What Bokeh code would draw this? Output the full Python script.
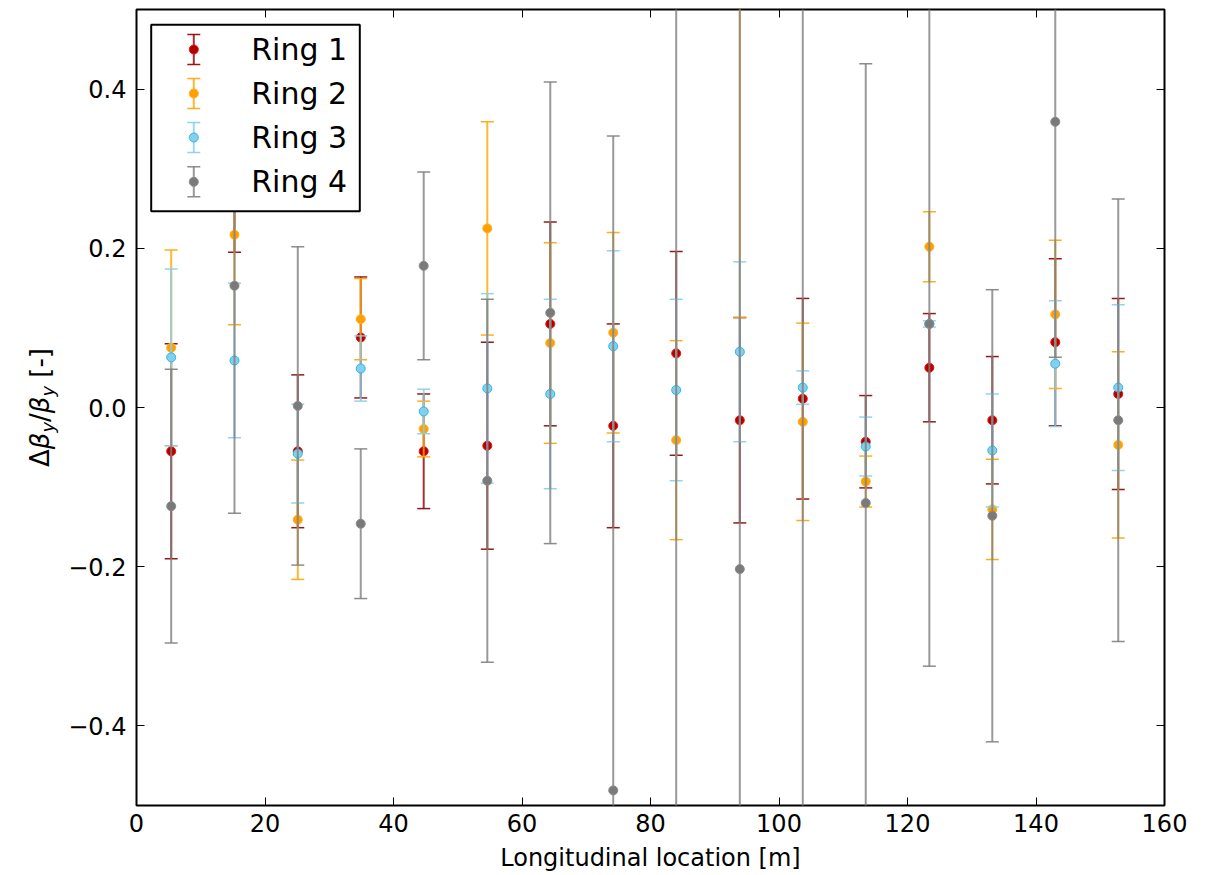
import numpy as np
from bokeh.plotting import figure
from bokeh.layouts import row
from bokeh.models import (Range1d, FixedTicker, LinearAxis, CustomJSTickFormatter,
                          Label, BoxAnnotation, PolyAnnotation, Div, CustomLabelingPolicy)
from bokeh.embed import file_html
from bokeh.resources import INLINE

# ---------------- data ----------------
location = [5.4, 15.25, 25.1, 34.9, 44.7, 54.6, 64.4, 74.2, 84.0, 93.9,
            103.7, 113.5, 123.4, 133.2, 143.0, 152.8]

ring1 = [-0.055, 0.28, -0.055, 0.088, -0.055, -0.048, 0.105, -0.023, 0.068, -0.016,
         0.011, -0.043, 0.050, -0.016, 0.082, 0.017]
ring1_err = [0.135, 0.085, 0.096, 0.076, 0.072, 0.130, 0.128, 0.128, 0.128, 0.129,
             0.126, 0.058, 0.068, 0.080, 0.105, 0.120]

ring2 = [0.075, 0.217, -0.141, 0.111, -0.027, 0.225, 0.081, 0.094, -0.041, 0.62,
         -0.018, -0.093, 0.202, -0.128, 0.117, -0.047]
ring2_err = [0.123, 0.113, 0.075, 0.051, 0.035, 0.134, 0.126, 0.126, 0.125, 0.507,
             0.124, 0.032, 0.044, 0.063, 0.093, 0.117]

ring3 = [0.063, 0.059, -0.058, 0.049, -0.005, 0.024, 0.017, 0.077, 0.022, 0.070,
         0.025, -0.049, 0.105, -0.054, 0.055, 0.025]
ring3_err = [0.111, 0.097, 0.062, 0.041, 0.028, 0.119, 0.119, 0.120, 0.114, 0.113,
             0.021, 0.037, 0.004, 0.071, 0.079, 0.104]

ring4 = [-0.124, 0.153, 0.002, -0.146, 0.178, -0.092, 0.119, -0.481, -0.70, -0.203,
         0.80, -0.120, 0.105, -0.136, 0.359, -0.016]
ring4_err = [0.172, 0.286, 0.200, 0.094, 0.118, 0.228, 0.290, 0.822, 1.30, 0.80,
             1.40, 0.552, 0.430, 0.284, 0.296, 0.278]

labels = ["Ring 1", "Ring 2", "Ring 3", "Ring 4"]
x_ticks = [0, 20, 40, 60, 80, 100, 120, 140, 160]
y_ticks = [-0.4, -0.2, 0.0, 0.2, 0.4]

# style per ring: (bar colour, marker fill, marker edge)
styles = [
    ("#8b0000", "#b00000", "#ee1111"),
    ("#ffa500", "#ffa000", "#ffb020"),
    ("#87ceeb", "#87ceeb", "#22bbee"),
    ("#808080", "#7a7a7a", "#8a8a8a"),
]

FONT = "DejaVu Sans"
DIV_W = 60

p = figure(width=1220 - DIV_W, height=875, x_range=Range1d(0, 160), y_range=Range1d(-0.5, 0.5),
           output_backend="svg", toolbar_location=None,
           min_border_left=136 - DIV_W, min_border_right=56, min_border_top=9,
           min_border_bottom=70,
           background_fill_color="white", border_fill_color="white")
p.grid.visible = False
p.outline_line_color = "black"
p.outline_line_width = 2

xt = FixedTicker(ticks=x_ticks)
yt = FixedTicker(ticks=y_ticks)
yfmt = CustomJSTickFormatter(code="return (tick < 0 ? '\\u2212' : '') + Math.abs(tick).toFixed(1)")

for side in ("above", "right"):
    ax = LinearAxis(ticker=xt if side == "above" else yt,
                    major_label_policy=CustomLabelingPolicy(code="return []"))
    p.add_layout(ax, side)

for ax in p.xaxis:
    ax.ticker = xt
for ax in p.yaxis:
    ax.ticker = yt
    ax.formatter = yfmt

for ax in p.axis:
    ax.axis_line_color = None
    ax.major_tick_in = 8
    ax.major_tick_out = 0
    ax.minor_tick_line_color = None
    ax.major_tick_line_color = "black"
    ax.major_tick_line_width = 1
    ax.major_label_text_font = FONT
    ax.major_label_text_font_size = "24px"
    ax.major_label_text_color = "black"

for ax in (p.above[0], p.right[0]):
    ax.major_label_text_font_size = "0px"
    ax.major_label_standoff = 0

p.below[0].major_label_standoff = 8
p.below[0].axis_label = "Longitudinal location [m]"
p.below[0].axis_label_text_font = FONT
p.below[0].axis_label_text_font_size = "24px"
p.below[0].axis_label_text_font_style = "normal"
p.below[0].axis_label_text_color = "black"
p.below[0].axis_label_standoff = 9
p.left[0].major_label_standoff = 10

# ---------------- data marks ----------------
series = [(ring1, ring1_err), (ring2, ring2_err), (ring3, ring3_err), (ring4, ring4_err)]
x = np.array(location)
for (vals, errs), (bar_c, fill_c, edge_c) in zip(series, styles):
    v = np.array(vals)
    e = np.array(errs)
    lo = v - e
    hi = v + e
    p.segment(x0=x, y0=lo, x1=x, y1=hi, line_color=bar_c, line_width=2, line_alpha=0.8)
    p.scatter(x=np.concatenate([x, x]), y=np.concatenate([lo, hi]), marker="dash",
              size=13, line_color=bar_c, line_width=1.5, line_alpha=0.9)
    p.scatter(x=x, y=v, marker="circle", size=9, fill_color=fill_c,
              line_color=edge_c, line_width=1)

# ---------------- legend (drawn manually, matplotlib style) ----------------
p.add_layout(BoxAnnotation(left=14.7, right=223.3, bottom=594.3, top=780.7,
                           left_units="screen", right_units="screen",
                           bottom_units="screen", top_units="screen",
                           fill_color="white", fill_alpha=1.0,
                           line_color="black", line_alpha=1.0, line_width=2))
icon_x = 57.3
text_x = 114.7
item_y = [756, 712, 668, 623.7]
theta = np.linspace(0, 2 * np.pi, 25)
for lab, cy, (bar_c, fill_c, edge_c) in zip(labels, item_y, styles):
    p.add_layout(BoxAnnotation(left=icon_x - 1, right=icon_x + 1, bottom=cy - 15, top=cy + 15,
                               left_units="screen", right_units="screen",
                               bottom_units="screen", top_units="screen",
                               fill_color=bar_c, fill_alpha=0.8, line_color=None))
    for cap in (cy - 15, cy + 15):
        p.add_layout(BoxAnnotation(left=icon_x - 6.5, right=icon_x + 6.5,
                                   bottom=cap - 0.75, top=cap + 0.75,
                                   left_units="screen", right_units="screen",
                                   bottom_units="screen", top_units="screen",
                                   fill_color=bar_c, fill_alpha=0.9, line_color=None))
    p.add_layout(PolyAnnotation(xs=list(icon_x + 4.5 * np.cos(theta)),
                                ys=list(cy + 4.5 * np.sin(theta)),
                                xs_units="screen", ys_units="screen",
                                fill_color=fill_c, fill_alpha=1.0,
                                line_color=edge_c, line_alpha=1.0, line_width=1))
    p.add_layout(Label(x=text_x, y=cy, x_units="screen", y_units="screen", text=lab,
                       text_font=FONT, text_font_size="30px", text_color="black",
                       text_align="left", text_baseline="middle"))

# ---------------- y axis label (mathtext-like) ----------------
ylabel_html = (
    "<span style=\"position:absolute; left:27px; top:467px; transform-origin:0 0; "
    "transform:rotate(-90deg); white-space:nowrap; font-family:'DejaVu Sans'; "
    "font-size:26px; line-height:26px; color:black;\">"
    "\u0394<i>\u03b2</i><sub style=\"font-size:18px; vertical-align:-5px;\"><i>y</i></sub>/"
    "<i>\u03b2</i><sub style=\"font-size:18px; vertical-align:-5px;\"><i>y</i></sub> [-]"
    "</span>"
)
ydiv = Div(text=ylabel_html, width=DIV_W, height=875, margin=(0, 0, 0, 0),
           styles={"position": "relative", "overflow": "visible"})

layout = row(ydiv, p, spacing=0, margin=(0, 0, 0, 0))
open("out.html", "w").write(file_html(layout, INLINE))
